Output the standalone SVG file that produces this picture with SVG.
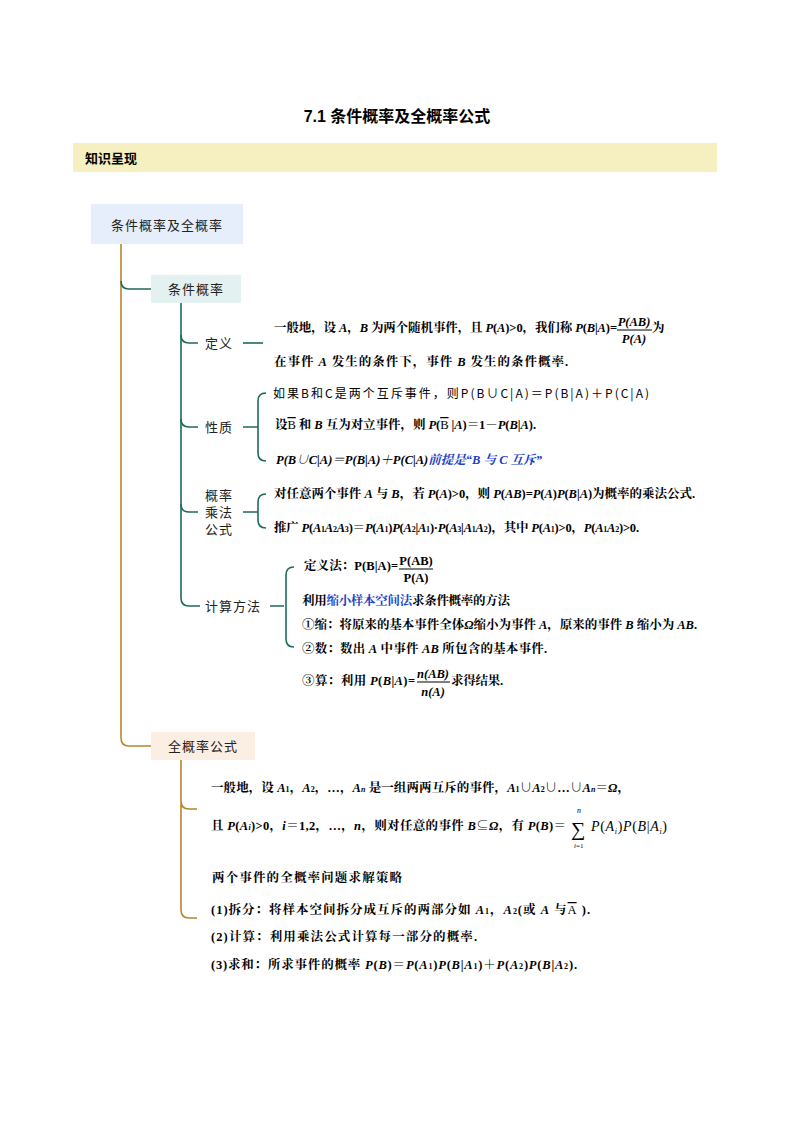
<svg xmlns="http://www.w3.org/2000/svg" width="794" height="1123" viewBox="0 0 794 1123">
<style>
text{font-family:"Liberation Serif","Noto Serif CJK SC","Noto Sans CJK SC",serif;fill:#000}
.b{font-weight:bold;font-size:12.5px}
.lab{font-family:"Noto Sans CJK SC",sans-serif;font-size:13px;fill:#222;letter-spacing:1px}
.g{fill:none;stroke:#1f6a5e;stroke-width:1.6}
.o{fill:none;stroke:#b8862b;stroke-width:1.6}
.blue{fill:#1a3fc8}
.i{font-style:italic}
</style>
<rect width="794" height="1123" fill="#fff"/>
<text x="397" y="122" text-anchor="middle" style="font-family:'Liberation Sans','Noto Sans CJK SC',sans-serif;font-size:16px;font-weight:bold">7.1  条件概率及全概率公式</text>
<rect x="73" y="143" width="644" height="29" fill="#f6f0c0"/>
<text x="85" y="163" style="font-family:'Noto Sans CJK SC',sans-serif;font-size:13px;font-weight:bold">知识呈现</text>
<g id="connectors">
<path class="o" d="M121 244 V738 Q121 746 129 746 H151"/>
<path class="g" d="M121 281 Q121 289 129 289 H151"/>
<path class="g" d="M181 303 V598 Q181 606 189 606 H200"/>
<path class="g" d="M181 335 Q181 343 189 343 H198"/>
<path class="g" d="M181 419 Q181 427 189 427 H198"/>
<path class="g" d="M181 504 Q181 512 189 512 H198"/>
<path class="g" d="M243 343 H263"/>
<path class="g" d="M243 427 H258 M266 393 Q258 393 258 401 V453 Q258 461 266 461"/>
<path class="g" d="M243 512 H258 M266 494 Q258 494 258 502 V520 Q258 528 266 528"/>
<path class="g" d="M270 606 H284 M294 567 Q286 567 286 575 V639 Q286 647 294 647"/>
<path class="o" d="M181 760 V910 Q181 918 189 918 H197 M181 801 Q181 809 189 809 H197"/>
</g>
<g id="root"><rect x="91" y="204" width="152" height="40" fill="#e7eefb"/><text class="lab" x="167" y="230" text-anchor="middle">条件概率及全概率</text></g>
<g id="cond"><rect x="151" y="275" width="90" height="28" fill="#e3f2f0"/><text class="lab" x="196" y="294" text-anchor="middle">条件概率</text></g>
<g id="total"><rect x="151" y="732" width="104" height="28" fill="#fbeee3"/><text class="lab" x="203" y="751" text-anchor="middle">全概率公式</text></g>
<g id="def"><text class="lab" x="205" y="348">定义</text></g>
<g id="prop"><text class="lab" x="205" y="432">性质</text></g>
<g id="mult"><text class="lab" x="205" y="500">概率</text><text class="lab" x="205" y="517">乘法</text><text class="lab" x="205" y="534">公式</text></g>
<g id="calc"><text class="lab" x="205" y="611">计算方法</text></g>
<g id="texts">
<text class="b" x="274" y="332" textLength="343" lengthAdjust="spacing">一般地，设 <tspan class="i">A</tspan>，<tspan class="i">B</tspan> 为两个随机事件，且 <tspan class="i">P</tspan>(<tspan class="i">A</tspan>)&gt;0，我们称 <tspan class="i">P</tspan>(<tspan class="i">B</tspan>|<tspan class="i">A</tspan>)=</text>
<text class="b i" x="634" y="326" text-anchor="middle">P(AB)</text><line x1="617" y1="330" x2="652" y2="330" stroke="#000"/><text class="b i" x="634" y="343" text-anchor="middle">P(A)</text><text class="b" x="652" y="332">为</text>
<text class="b" x="274" y="366" textLength="294" lengthAdjust="spacing">在事件 <tspan class="i">A</tspan> 发生的条件下，事件 <tspan class="i">B</tspan> 发生的条件概率.</text>
<text x="273" y="398" textLength="376" lengthAdjust="spacing" style="font-family:'Noto Sans CJK SC',sans-serif;font-size:12px">如果B和C是两个互斥事件，则P(B∪C|A)＝P(B|A)＋P(C|A)</text>
<text class="b" x="275" y="429" textLength="261" lengthAdjust="spacing">设<tspan font-weight="normal" text-decoration="overline">B</tspan> 和 <tspan class="i">B</tspan> 互为对立事件，则 <tspan class="i">P</tspan>(<tspan font-weight="normal" text-decoration="overline">B</tspan> |<tspan class="i">A</tspan>)＝1－<tspan class="i">P</tspan>(<tspan class="i">B</tspan>|<tspan class="i">A</tspan>).</text>
<text class="b i" x="276" y="464" textLength="266" lengthAdjust="spacing">P(B∪C|A)＝P(B|A)＋P(C|A)<tspan class="blue">前提是“B 与 C 互斥”</tspan></text>
<text class="b" x="274" y="498" textLength="421" lengthAdjust="spacing">对任意两个事件 <tspan class="i">A</tspan> 与 <tspan class="i">B</tspan>，若 <tspan class="i">P</tspan>(<tspan class="i">A</tspan>)&gt;0，则 <tspan class="i">P</tspan>(<tspan class="i">AB</tspan>)=<tspan class="i">P</tspan>(<tspan class="i">A</tspan>)<tspan class="i">P</tspan>(<tspan class="i">B</tspan>|<tspan class="i">A</tspan>)为概率的乘法公式.</text>
<text class="b" x="274" y="532" textLength="365" lengthAdjust="spacing">推广 <tspan class="i">P</tspan>(<tspan class="i">A</tspan><tspan font-size="8">1</tspan><tspan class="i">A</tspan><tspan font-size="8">2</tspan><tspan class="i">A</tspan><tspan font-size="8">3</tspan>)＝<tspan class="i">P</tspan>(<tspan class="i">A</tspan><tspan font-size="8">1</tspan>)<tspan class="i">P</tspan>(<tspan class="i">A</tspan><tspan font-size="8">2</tspan>|<tspan class="i">A</tspan><tspan font-size="8">1</tspan>)·<tspan class="i">P</tspan>(<tspan class="i">A</tspan><tspan font-size="8">3</tspan>|<tspan class="i">A</tspan><tspan font-size="8">1</tspan><tspan class="i">A</tspan><tspan font-size="8">2</tspan>)，其中 <tspan class="i">P</tspan>(<tspan class="i">A</tspan><tspan font-size="8">1</tspan>)&gt;0，<tspan class="i">P</tspan>(<tspan class="i">A</tspan><tspan font-size="8">1</tspan><tspan class="i">A</tspan><tspan font-size="8">2</tspan>)&gt;0.</text>
<text class="b" x="304" y="570" textLength="94" lengthAdjust="spacing">定义法：P(B|A)=</text>
<text class="b" x="416" y="565" text-anchor="middle">P(AB)</text><line x1="399" y1="569" x2="433" y2="569" stroke="#000"/><text class="b" x="416" y="582" text-anchor="middle">P(A)</text>
<text class="b" x="302" y="605" textLength="208" lengthAdjust="spacing">利用<tspan class="blue">缩小样本空间法</tspan>求条件概率的方法</text>
<text class="b" x="302" y="629" textLength="395" lengthAdjust="spacing">①缩：将原来的基本事件全体<tspan class="i">Ω</tspan>缩小为事件 <tspan class="i">A</tspan>，原来的事件 <tspan class="i">B</tspan> 缩小为 <tspan class="i">AB</tspan>.</text>
<text class="b" x="302" y="653" textLength="245" lengthAdjust="spacing">②数：数出 <tspan class="i">A</tspan> 中事件 <tspan class="i">AB</tspan> 所包含的基本事件.</text>
<text class="b" x="302" y="685" textLength="113" lengthAdjust="spacing">③算：利用 <tspan class="i">P</tspan>(<tspan class="i">B</tspan>|<tspan class="i">A</tspan>)=</text>
<text class="b i" x="433" y="678" text-anchor="middle">n(AB)</text><line x1="417" y1="682" x2="450" y2="682" stroke="#000"/><text class="b i" x="433" y="696" text-anchor="middle">n(A)</text><text class="b" x="451" y="685" textLength="52" lengthAdjust="spacing">求得结果.</text>
<text class="b" x="211" y="792" textLength="419" lengthAdjust="spacing">一般地，设 <tspan class="i">A</tspan><tspan font-size="8">1</tspan>，<tspan class="i">A</tspan><tspan font-size="8">2</tspan>，…，<tspan class="i">A</tspan><tspan font-size="8" class="i">n</tspan> 是一组两两互斥的事件，<tspan class="i">A</tspan><tspan font-size="8">1</tspan>∪<tspan class="i">A</tspan><tspan font-size="8">2</tspan>∪…∪<tspan class="i">A</tspan><tspan font-size="8" class="i">n</tspan>＝<tspan class="i">Ω</tspan>，</text>
<text class="b" x="211" y="830" textLength="355" lengthAdjust="spacing">且 <tspan class="i">P</tspan>(<tspan class="i">A</tspan><tspan font-size="8" class="i">i</tspan>)&gt;0，<tspan class="i">i</tspan>＝1,2，…，<tspan class="i">n</tspan>，则对任意的事件 <tspan class="i">B</tspan>⊆<tspan class="i">Ω</tspan>，有 <tspan class="i">P</tspan>(<tspan class="i">B</tspan>)＝</text>
<text x="571" y="836" style="font-family:'Liberation Serif',serif;font-size:20px">∑</text>
<text x="577" y="813" class="i" style="font-family:'Liberation Serif',serif;font-size:8px">n</text>
<text x="574" y="848" style="font-family:'Liberation Serif',serif;font-size:7px"><tspan font-style="italic">i</tspan>=1</text>
<text x="591" y="831" textLength="76" lengthAdjust="spacing" style="font-family:'Liberation Serif',serif;font-size:14px;font-style:italic">P<tspan font-style="normal">(</tspan>A<tspan font-size="8" dy="3">i</tspan><tspan dy="-3" font-style="normal">)</tspan>P<tspan font-style="normal">(</tspan>B<tspan font-style="normal">|</tspan>A<tspan font-size="8" dy="3">i</tspan><tspan dy="-3" font-style="normal">)</tspan></text>
<text class="b" x="212" y="882" textLength="190" lengthAdjust="spacing">两个事件的全概率问题求解策略</text>
<text class="b" x="211" y="914" textLength="379" lengthAdjust="spacing">(1)拆分：将样本空间拆分成互斥的两部分如 <tspan class="i">A</tspan><tspan font-size="8">1</tspan>，<tspan class="i">A</tspan><tspan font-size="8">2</tspan>(或 <tspan class="i">A</tspan> 与<tspan font-weight="normal" text-decoration="overline">A</tspan> ).</text>
<text class="b" x="211" y="941" textLength="266" lengthAdjust="spacing">(2)计算：利用乘法公式计算每一部分的概率.</text>
<text class="b" x="211" y="969" textLength="366" lengthAdjust="spacing">(3)求和：所求事件的概率 <tspan class="i">P</tspan>(<tspan class="i">B</tspan>)＝<tspan class="i">P</tspan>(<tspan class="i">A</tspan><tspan font-size="8">1</tspan>)<tspan class="i">P</tspan>(<tspan class="i">B</tspan>|<tspan class="i">A</tspan><tspan font-size="8">1</tspan>)＋<tspan class="i">P</tspan>(<tspan class="i">A</tspan><tspan font-size="8">2</tspan>)<tspan class="i">P</tspan>(<tspan class="i">B</tspan>|<tspan class="i">A</tspan><tspan font-size="8">2</tspan>).</text>
</g>
</svg>
